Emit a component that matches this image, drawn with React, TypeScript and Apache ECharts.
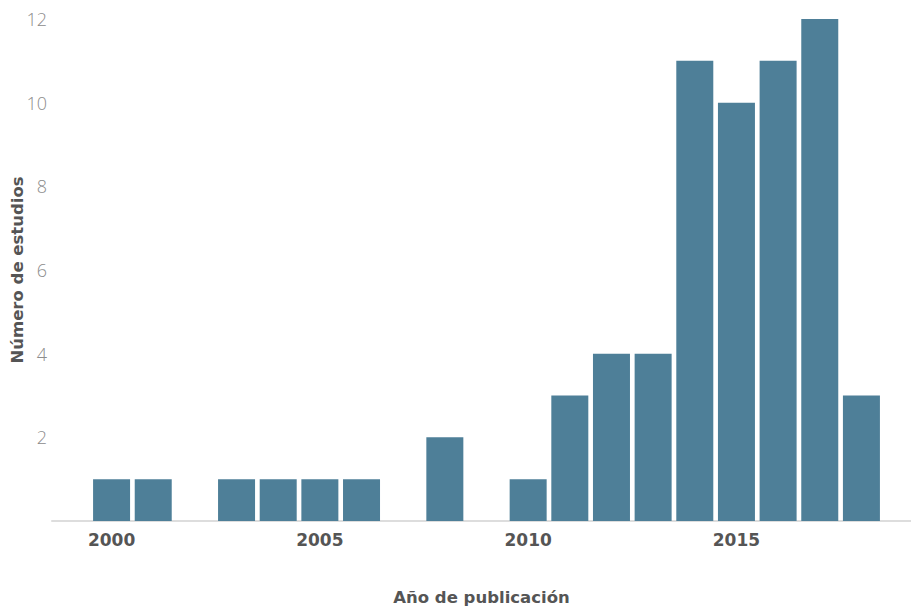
import React, { useEffect, useRef } from "react";
import * as echarts from "echarts";

const years = [2000, 2001, 2002, 2003, 2004, 2005, 2006, 2007, 2008, 2009, 2010, 2011, 2012, 2013, 2014, 2015, 2016, 2017, 2018];
const counts = [1, 1, 0, 1, 1, 1, 1, 0, 2, 0, 1, 3, 4, 4, 11, 10, 11, 12, 3];
const xTickLabels = [2000, 2005, 2010, 2015];
const xName = "Año de publicación";
const yName = "Número de estudios";

export default function App() {
  const ref = useRef<HTMLDivElement>(null);
  useEffect(() => {
    if (!ref.current) return;
    const chart = echarts.init(ref.current, null, { renderer: "svg" });
    const data = years.map((y, i) => [y, counts[i]]).filter((d) => d[1] > 0);
    chart.setOption({
      animation: false,
      grid: { left: 52, right: 0, top: 19, bottom: 86, containLabel: false, outerBoundsMode: "none" },
      xAxis: {
        type: "value",
        min: 1998.57,
        max: 2019.19,
        splitLine: { show: false },
        axisTick: { show: false },
        axisLine: { show: true, lineStyle: { color: "#dddddd", width: 2 } },
        axisLabel: {
          showMinLabel: false,
          showMaxLabel: false,
          color: "#555555",
          fontFamily: "DejaVu Sans",
          fontWeight: "bold",
          fontSize: 17,
          margin: 10,
          formatter: (v: number) => (xTickLabels.includes(Math.round(v * 1000) / 1000) ? String(v) : ""),
        },
        name: xName,
        nameLocation: "middle",
        nameGap: 68,
        nameMoveOverlap: false,
        nameTextStyle: { color: "#555555", fontFamily: "DejaVu Sans", fontWeight: "bold", fontSize: 16.5 },
      },
      yAxis: {
        type: "value",
        min: 0,
        max: 12,
        interval: 2,
        splitLine: { show: false },
        axisTick: { show: false },
        axisLine: { show: false },
        axisLabel: {
          showMinLabel: false,
          color: "#8c8c8c",
          fontFamily: "Open Sans",
          fontWeight: 300,
          fontSize: 18,
          margin: 5,
        },
        name: yName,
        nameLocation: "middle",
        nameGap: 26,
        nameMoveOverlap: false,
        nameTextStyle: { color: "#555555", fontFamily: "DejaVu Sans", fontWeight: "bold", fontSize: 16.5 },
      },
      series: [
        {
          type: "bar",
          data,
          barWidth: 37,
          itemStyle: { color: "#4e7f98" },
        },
      ],
    });
    return () => chart.dispose();
  }, []);
  return <div ref={ref} style={{ width: 911, height: 607, position: "absolute", left: 0, top: 0 }} />;
}
